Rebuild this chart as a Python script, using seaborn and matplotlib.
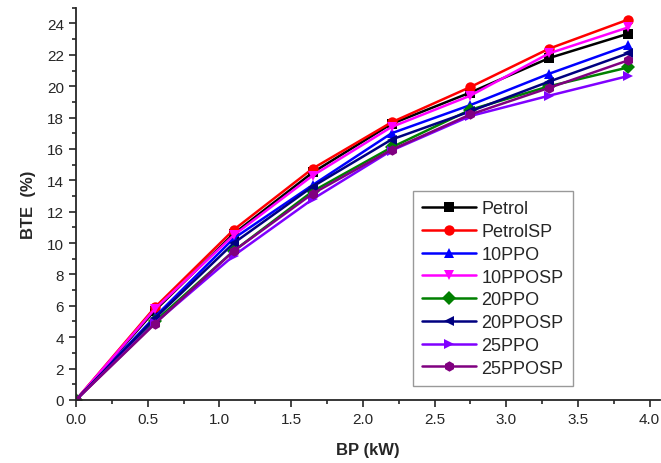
import numpy as np
import pandas as pd
import matplotlib
matplotlib.use('Agg')
import matplotlib.pyplot as plt
import seaborn as sns
from matplotlib.ticker import MultipleLocator

sns.set_style('ticks')
plt.rcParams['font.family'] = ['Liberation Sans', 'DejaVu Sans']

# brake power (kW)
bp = [0.0, 0.55, 1.1, 1.65, 2.2, 2.75, 3.3, 3.85]

# brake thermal efficiency (%)
petrol   = [0, 5.7, 10.6, 14.5, 17.6, 19.6, 21.8, 23.35]
petrolsp = [0, 5.9, 10.85, 14.75, 17.7, 19.95, 22.4, 24.25]
ppo10    = [0, 5.3, 10.3, 13.7, 17.0, 18.8, 20.8, 22.6]
ppo10sp  = [0, 5.8, 10.5, 14.3, 17.4, 19.4, 22.1, 23.75]
ppo20    = [0, 5.0, 9.5, 13.3, 16.1, 18.5, 20.0, 21.2]
ppo20sp  = [0, 5.2, 10.0, 13.6, 16.6, 18.4, 20.3, 22.1]
ppo25    = [0, 4.9, 9.2, 12.8, 15.9, 18.1, 19.4, 20.65]
ppo25sp  = [0, 4.85, 9.5, 13.15, 15.95, 18.2, 19.9, 21.65]

names = ['Petrol', 'PetrolSP', '10PPO', '10PPOSP', '20PPO', '20PPOSP', '25PPO', '25PPOSP']
series = [petrol, petrolsp, ppo10, ppo10sp, ppo20, ppo20sp, ppo25, ppo25sp]
colors = ['#000000', '#ff0000', '#0000ff', '#ff00ff', '#008000', '#000080', '#8000ff', '#800080']
marks = ['s', 'o', '^', 'v', 'D', '<', '>', 'h']

frames = []
for n, s in zip(names, series):
    frames.append(pd.DataFrame({'BP': bp, 'BTE': s, 'fuel': n}))
df = pd.concat(frames, ignore_index=True)

fig = plt.figure(figsize=(6.61, 4.64), dpi=100)
ax = fig.add_axes([0.115, 0.136, 0.883, 0.845])

sns.lineplot(data=df, x='BP', y='BTE', hue='fuel', style='fuel',
             hue_order=names, style_order=names,
             palette=dict(zip(names, colors)), markers=dict(zip(names, marks)),
             dashes=False, linewidth=1.8, markersize=7.5, markeredgewidth=0,
             ax=ax, legend=True)

ax.set_xlim(0, 4.07)
ax.set_ylim(0, 25)
ax.xaxis.set_major_locator(MultipleLocator(0.5))
ax.xaxis.set_minor_locator(MultipleLocator(0.25))
ax.yaxis.set_major_locator(MultipleLocator(2))
ax.yaxis.set_minor_locator(MultipleLocator(1))
ax.tick_params(which='major', length=5, width=1.2, labelsize=11, direction='out')
ax.tick_params(which='minor', length=3, width=1.2, direction='out')
ax.set_xticklabels(['%.1f' % t for t in ax.get_xticks()])
for sp in ['top', 'right']:
    ax.spines[sp].set_visible(False)
for sp in ['left', 'bottom']:
    ax.spines[sp].set_linewidth(1.3)

ax.set_xlabel('BP (kW)', fontsize=12, fontweight='bold', labelpad=12)
ax.set_ylabel('BTE  (%)', fontsize=12, fontweight='bold', labelpad=8)

handles, labels = ax.get_legend_handles_labels()
leg = ax.legend(handles, labels, loc='lower left', bbox_to_anchor=(0.577, 0.036),
                borderaxespad=0, fontsize=13, frameon=True, fancybox=False,
                edgecolor='#808080', handlelength=3.0, labelspacing=0.32,
                borderpad=0.5, handletextpad=0.3)
leg.get_frame().set_linewidth(1.0)

fig.savefig('out.png', dpi=100)
